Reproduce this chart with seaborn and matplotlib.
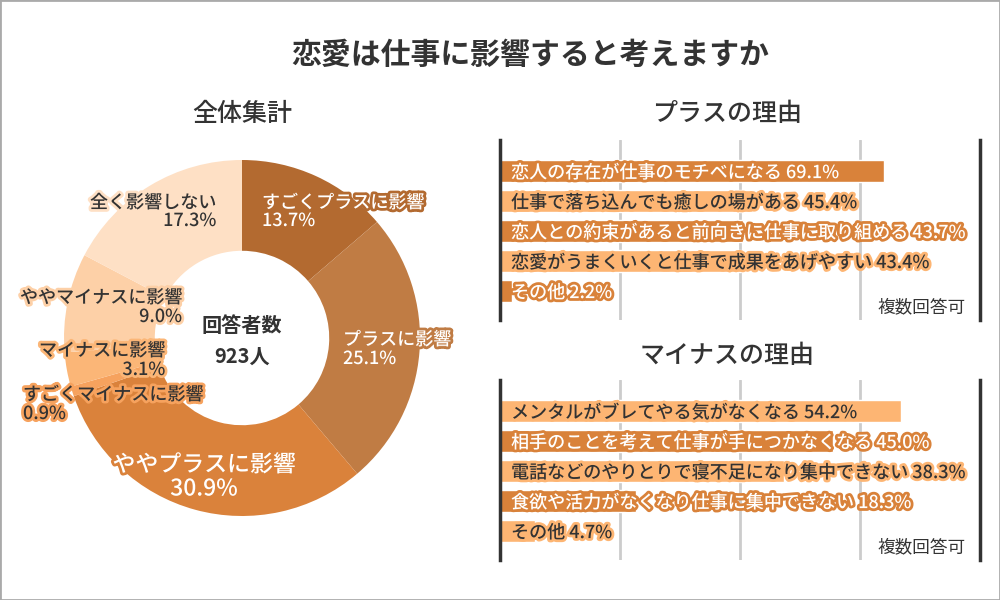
import numpy as np
import pandas as pd
import matplotlib
matplotlib.use("Agg")
import matplotlib.pyplot as plt
import matplotlib.patheffects as pe
import matplotlib.transforms as mtransforms
from matplotlib.patches import Rectangle
import seaborn as sns

# ---------- Data ----------
pie_labels = ["すごくプラスに影響", "プラスに影響", "ややプラスに影響",
              "すごくマイナスに影響", "マイナスに影響", "ややマイナスに影響", "全く影響しない"]
pie_values = [13.7, 25.1, 30.9, 0.9, 3.1, 9.0, 17.3]
respondents = 923

plus_reasons = ["恋人の存在が仕事のモチベになる",
                "仕事で落ち込んでも癒しの場がある",
                "恋人との約束があると前向きに仕事に取り組める",
                "恋愛がうまくいくと仕事で成果をあげやすい",
                "その他"]
plus_values = [69.1, 45.4, 43.7, 43.4, 2.2]

minus_reasons = ["メンタルがブレてやる気がなくなる",
                 "相手のことを考えて仕事が手につかなくなる",
                 "電話などのやりとりで寝不足になり集中できない",
                 "食欲や活力がなくなり仕事に集中できない",
                 "その他"]
minus_values = [54.2, 45.0, 38.3, 18.3, 4.7]

# ---------- Style ----------
TEXT = "#333333"
DARK_BAR = "#d9823a"
LIGHT_BAR = "#fdb573"
pie_colors = ["#b36a30", "#c07c44", "#da823b", "#f6a25e", "#fbb677", "#fdd0a7", "#fee0c5"]
pie_text_colors = ["white", "white", "white", TEXT, TEXT, TEXT, TEXT]
# label placement in figure pixels: (x, y line1, y line2, ha, size)
pie_label_pos = [
    (262, 200, 218, "left", 13),
    (343, 337, 356, "left", 13),
    (204, 462, 486, "center", 16.5),
    (23, 392, 411, "left", 13),
    (165, 348, 367, "right", 13),
    (182, 295, 314, "right", 13),
    (216, 200, 218, "right", 13),
]
DY = 3  # va="center" sits CJK glyphs a little high

sns.set_theme(style="white")
plt.rcParams['font.family'] = ['Noto Sans CJK JP', 'DejaVu Sans']

W, H = 1000, 600
fig = plt.figure(figsize=(10, 6), dpi=100)
fig.patch.set_facecolor("white")
px = mtransforms.Affine2D().scale(1 / W, -1 / H).translate(0, 1) + fig.transFigure

# border
fig.patches.append(Rectangle((0, 0), 1, 1, transform=fig.transFigure, fill=False,
                             edgecolor="#aaaaaa", linewidth=2))

# titles
fig.text(530, 52 + DY, "恋愛は仕事に影響すると考えますか", transform=px, ha="center", va="center",
         fontsize=21.5, fontweight="bold", color=TEXT)
fig.text(242, 111 + DY, "全体集計", transform=px, ha="center", va="center", fontsize=18,
         fontweight="medium", color=TEXT)
fig.text(727, 111 + DY, "プラスの理由", transform=px, ha="center", va="center", fontsize=18,
         fontweight="medium", color=TEXT)
fig.text(727, 353 + DY, "マイナスの理由", transform=px, ha="center", va="center", fontsize=18,
         fontweight="medium", color=TEXT)

# =========================================================
# Donut
# =========================================================
cx, cy, r = 242, 338, 178
ax_pie = fig.add_axes([(cx - r) / W, (H - cy - r) / H, 2 * r / W, 2 * r / H])
ax_pie.pie(pie_values, colors=pie_colors, startangle=90, counterclock=False, radius=1,
           wedgeprops=dict(width=0.51, edgecolor="none"))
ax_pie.set_xlim(-1, 1)
ax_pie.set_ylim(-1, 1)
ax_pie.axis("off")

for lab, val, col, tcol, (x, y1, y2, ha, fs) in zip(pie_labels, pie_values, pie_colors,
                                                      pie_text_colors, pie_label_pos):
    fx = [pe.withStroke(linewidth=4, foreground=col)]
    fig.text(x, y1 + DY, lab, transform=px, ha=ha, va="center", fontsize=fs, color=tcol,
             path_effects=fx, fontweight="medium")
    fig.text(x, y2 + DY, f"{val:.1f}%", transform=px, ha=ha, va="center", fontsize=fs,
             color=tcol, path_effects=fx, fontweight="medium")

fig.text(cx, 323 + DY, "回答者数", transform=px, ha="center", va="center", fontsize=14.5,
         fontweight="bold", color=TEXT)
fig.text(cx, 353 + DY, f"{respondents}人", transform=px, ha="center", va="center",
         fontsize=14.5, fontweight="bold", color=TEXT)


# =========================================================
# Bar charts
# =========================================================
def reason_bars(top_px, reasons, values, colors, xmax):
    ax = fig.add_axes([500 / W, (H - top_px - 180) / H, 480 / W, 180 / H])
    df = pd.DataFrame({"reason": reasons, "value": values})
    sns.barplot(data=df, x="value", y="reason", hue="reason", palette=colors,
                legend=False, width=0.73, ax=ax, orient="h", saturation=1)
    ax.set_xlim(0, xmax)
    ax.set_ylim(4 + 29 / 30, -31 / 30)
    ax.set_xticks([xmax / 4, xmax / 2, 3 * xmax / 4])
    ax.set_xticklabels([])
    ax.set_yticks([])
    ax.set_xlabel("")
    ax.set_ylabel("")
    ax.grid(axis="x", color="#cccccc", linewidth=2)
    ax.set_axisbelow(True)
    ax.tick_params(length=0)
    for side in ["top", "bottom"]:
        ax.spines[side].set_visible(False)
    for side in ["left", "right"]:
        ax.spines[side].set_color("#333333")
        ax.spines[side].set_linewidth(2.5)
    for i, (lab, val, col) in enumerate(zip(reasons, values, colors)):
        tcol = "white" if col == DARK_BAR else TEXT
        ax.text(0.023, i + 0.07, f"{lab} {val:.1f}%", transform=ax.get_yaxis_transform(),
                ha="left", va="center", fontsize=13, color=tcol, fontweight="medium",
                path_effects=[pe.withStroke(linewidth=4, foreground=col)])
    ax.text(0.969, 0.07, "複数回答可", transform=ax.transAxes, ha="right", va="center",
            fontsize=12.7, color=TEXT)
    return ax


reason_bars(140, plus_reasons, plus_values,
            [DARK_BAR, LIGHT_BAR, DARK_BAR, LIGHT_BAR, DARK_BAR], 86.4)
reason_bars(380, minus_reasons, minus_values,
            [LIGHT_BAR, DARK_BAR, LIGHT_BAR, DARK_BAR, LIGHT_BAR], 64.8)

plt.savefig("out.png", dpi=100)
